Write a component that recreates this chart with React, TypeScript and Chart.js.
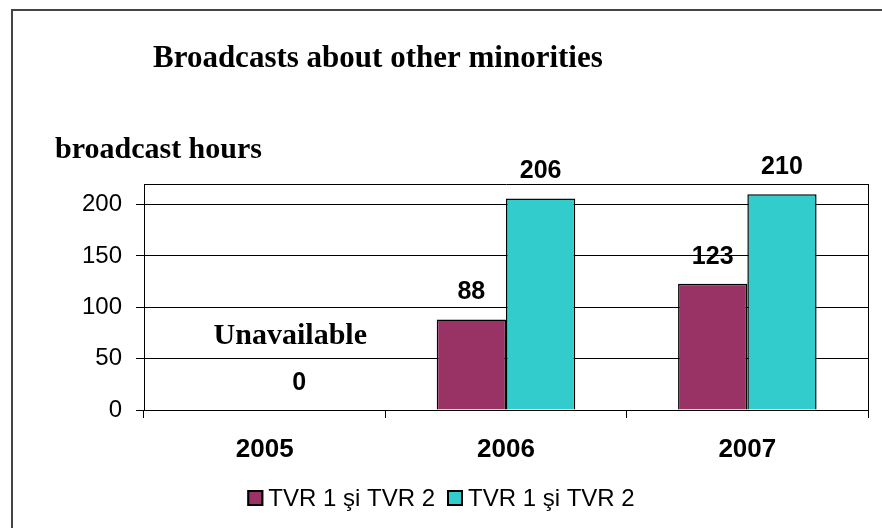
import { useEffect, useRef } from "react";
import { Chart, registerables } from "chart.js";

Chart.register(...registerables);

const categories = ["2005", "2006", "2007"];
const seriesA: (number | null)[] = [null, 88, 123];
const seriesB: (number | null)[] = [0, 206, 210];
const seriesLabels = ["TVR 1 şi TVR 2", "TVR 1 şi TVR 2"];
const seriesColors = ["#993366", "#33CCCC"];
const yTicks = [0, 50, 100, 150, 200];
const yMax = 220;
const notes = ["Unavailable", "", ""];
const titleText = "Broadcasts about other minorities";
const yAxisTitle = "broadcast hours";

const SANS = "'Liberation Sans', Arial, sans-serif";
const SERIF = "'Liberation Serif', 'Times New Roman', serif";

const decorPlugin = {
  id: "decor",
  beforeDraw(chart: any) {
    const { ctx, width, height } = chart;
    ctx.save();
    ctx.fillStyle = "#fff";
    ctx.fillRect(0, 0, width, height);
    ctx.strokeStyle = "#444";
    ctx.lineWidth = 2;
    ctx.strokeRect(12, 10, width + 20, height + 20);
    ctx.fillStyle = "#000";
    ctx.textAlign = "left";
    ctx.textBaseline = "alphabetic";
    ctx.font = `bold 31px ${SERIF}`;
    ctx.fillText(titleText, 153, 67);
    ctx.font = `bold 30px ${SERIF}`;
    ctx.fillText(yAxisTitle, 55, 158);
    ctx.restore();
  },
  afterDatasetsDraw(chart: any) {
    const { ctx, chartArea } = chart;
    ctx.save();
    // right border of plot
    ctx.strokeStyle = "#000";
    ctx.lineWidth = 1;
    ctx.beginPath();
    ctx.moveTo(Math.round(chartArea.right) + 0.5, chartArea.top);
    ctx.lineTo(Math.round(chartArea.right) + 0.5, chartArea.bottom);
    ctx.stroke();

    ctx.fillStyle = "#000";
    ctx.textAlign = "center";
    ctx.textBaseline = "middle";
    ctx.font = `bold 25px ${SANS}`;
    chart.data.datasets.forEach((ds: any, di: number) => {
      const meta = chart.getDatasetMeta(di);
      meta.data.forEach((el: any, i: number) => {
        const v = ds.data[i];
        if (v === null || v === undefined) return;
        ctx.fillText(String(v), el.x, el.y - 27);
        if (di === 1 && notes[i]) {
          ctx.save();
          ctx.font = `bold 30px ${SERIF}`;
          ctx.fillText(notes[i], el.x - 9, el.y - 27 - 47);
          ctx.restore();
        }
      });
    });

    // legend
    const box = 16;
    const gapBoxText = 5;
    const gapItems = 12;
    ctx.font = `24px ${SANS}`;
    const widths = seriesLabels.map((l) => ctx.measureText(l).width);
    const total =
      widths.reduce((a, b) => a + b, 0) +
      seriesLabels.length * (box + gapBoxText) +
      (seriesLabels.length - 1) * gapItems;
    let x = chart.width / 2 - total / 2;
    const cy = 498;
    ctx.textAlign = "left";
    ctx.textBaseline = "middle";
    seriesLabels.forEach((l, i) => {
      ctx.fillStyle = seriesColors[i];
      ctx.fillRect(x, cy - box / 2, box, box);
      ctx.strokeStyle = "#000";
      ctx.lineWidth = 2;
      ctx.strokeRect(x + 1, cy - box / 2 + 1, box - 2, box - 2);
      x += box + gapBoxText;
      ctx.fillStyle = "#000";
      ctx.fillText(l, x, cy + 1);
      x += widths[i] + gapItems;
    });
    ctx.restore();
  },
};

export default function App() {
  const ref = useRef<HTMLCanvasElement | null>(null);
  useEffect(() => {
    if (!ref.current) return;
    const chart = new Chart(ref.current, {
      type: "bar",
      data: {
        labels: categories,
        datasets: [
          {
            label: seriesLabels[0],
            data: seriesA,
            backgroundColor: seriesColors[0],
            borderColor: "#000",
            borderWidth: 1.5,
            categoryPercentage: 0.574,
            barPercentage: 1,
          },
          {
            label: seriesLabels[1],
            data: seriesB,
            backgroundColor: seriesColors[1],
            borderColor: "#000",
            borderWidth: 1.5,
            categoryPercentage: 0.574,
            barPercentage: 1,
          },
        ],
      },
      options: {
        animation: false,
        responsive: false,
        devicePixelRatio: 1,
        layout: { padding: { left: 0, top: 184, right: 14, bottom: 0 } },
        plugins: {
          legend: { display: false },
          title: { display: false },
          tooltip: { enabled: false },
        },
        scales: {
          x: {
            type: "category",
            offset: true,
            grid: {
              offset: true,
              drawOnChartArea: false,
              color: "#000",
              tickColor: "#000",
              tickLength: 8,
              lineWidth: 1,
            },
            border: { color: "#000", width: 1 },
            ticks: {
              color: "#000",
              padding: 16,
              font: { family: SANS, size: 26, weight: "bold" },
            },
            afterFit: (s: any) => {
              s.height = 118;
            },
          },
          y: {
            min: 0,
            max: yMax,
            afterBuildTicks: (s: any) => {
              s.ticks = [...yTicks, yMax].map((v) => ({ value: v }));
            },
            grid: {
              color: "#000",
              lineWidth: 1,
              tickLength: 8,
              tickColor: (c: any) =>
                c.tick && c.tick.value === yMax ? "rgba(0,0,0,0)" : "#000",
            },
            border: { color: "#000", width: 1 },
            ticks: {
              color: "#000",
              padding: 14,
              font: { family: SANS, size: 24 },
              callback: (v: any) => (yTicks.includes(Number(v)) ? String(v) : ""),
            },
            afterFit: (s: any) => {
              s.width = 144;
            },
          },
        },
      } as any,
      plugins: [decorPlugin],
    });
    return () => chart.destroy();
  }, []);
  return (
    <div style={{ position: "fixed", left: 0, top: 0, width: 882, height: 528 }}>
      <canvas ref={ref} width={882} height={528} style={{ width: 882, height: 528 }} />
    </div>
  );
}
